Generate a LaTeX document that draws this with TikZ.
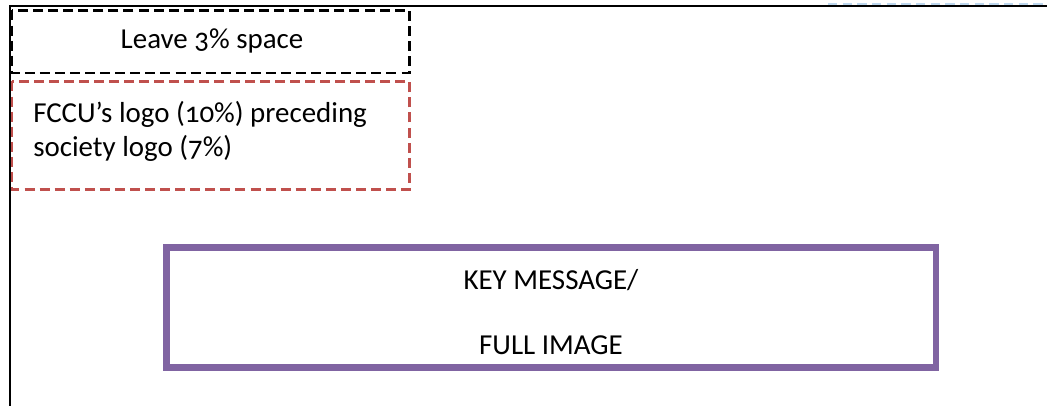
\documentclass[tikz,border=0pt]{standalone}
\usepackage{fontspec}
\setmainfont{Carlito}[Numbers=OldStyle]
\usepackage{tikz}
\usetikzlibrary{positioning}

\definecolor{framePurple}{RGB}{128,100,162}
\definecolor{frameRed}{RGB}{192,80,77}
\definecolor{frameBlue}{RGB}{189,215,238}

\tikzset{
  label_text/.style={inner sep=0pt,font=\fontsize{21.7}{26}\selectfont},
  box_dash/.style={line width=1.8pt,dash pattern=on 7.5pt off 3.8pt},
}

\begin{document}
\begin{tikzpicture}[x=0.75pt,y=-0.75pt,line join=miter]
\useasboundingbox (0,0) rectangle (1047,406);
%%
\draw [frameBlue,line width=1.5pt,dash pattern=on 7pt off 4pt] (828,4.2) -- (1047,4.2);
\draw [black,line width=1.6pt] (10,406) -- (10,5.8) -- (1047,5.8);
\draw [black,box_dash] (12,10.5) rectangle (409.5,73);
\draw [frameRed,box_dash] (12,81.5) rectangle (409.5,189.5);
\draw [framePurple,line width=5.2pt] (166.5,247.5) rectangle (936,367.5);
%%
\node (node_0) at (212,49) [label_text,anchor=base] {Leave 3\% space};
\node (node_1) at (33,123) [label_text,anchor=base west] {FCCU’s logo (10\%) preceding};
\node (node_2) at (33,157) [label_text,anchor=base west] {society logo (7\%)};
\node (node_3) at (551,290) [label_text,anchor=base] {KEY MESSAGE/};
\node (node_4) at (551,354) [label_text,anchor=base] {FULL IMAGE};
%
\end{tikzpicture}
\end{document}
